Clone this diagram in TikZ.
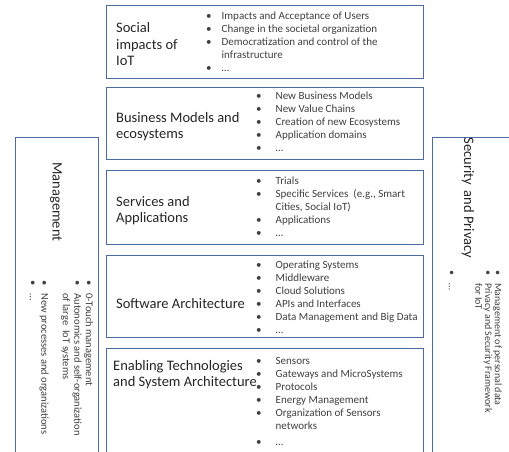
\documentclass[tikz,border=0pt]{standalone}
\usepackage{fontspec}
\setmainfont{Carlito}
\usepackage{tikz}
\usepackage{xcolor}
\usetikzlibrary{positioning}
\definecolor{layerblue}{RGB}{74,108,160}
\definecolor{txtgray}{RGB}{64,64,64}
\newcommand{\blist}[2][14pt]{\begin{tabular}{@{}l@{\hspace{#1}}l@{}}#2\end{tabular}}

\begin{document}
\begin{tikzpicture}[x=1pt,y=-1pt,
  layer/.style={draw=layerblue,line width=1.3pt,fill=white,minimum width=317pt,anchor=north west,inner sep=0pt},
  side/.style={draw=layerblue,line width=1.3pt,fill=white,anchor=north west,inner sep=0pt},
  head/.style={font=\fontsize{14.5}{16.5}\selectfont,align=left,text=black!85,inner sep=0pt},
  items/.style={font=\fontsize{11}{13}\selectfont,text=txtgray,inner sep=0pt},
  sidehead/.style={head,rotate=-90},
  sideitems/.style={text=txtgray,inner sep=0pt,rotate=-90,anchor=north west}]
  \useasboundingbox (0,0) rectangle (509,451);

  % side columns
  \node (mgt) [side,minimum width=83pt,minimum height=330pt] at (15,137) {};
  \node (sec) [side,minimum width=100pt,minimum height=330pt] at (432,137) {};

  % layers
  \node (soc) [layer,minimum height=73pt] at (106,5) {};
  \node (bus) [layer,minimum height=72pt] at (106,87) {};
  \node (srv) [layer,minimum height=74pt] at (106,170) {};
  \node (sw) [layer,minimum height=82pt] at (106,255) {};
  \node (ena) [layer,minimum height=120pt] at (106,348) {};

  \node (socT) [head,right=10pt of soc.west,yshift=-2pt] {Social\\impacts of\\IoT};
  \node (busT) [head,right=10pt of bus.west,yshift=-3pt] {Business Models and\\ecosystems};
  \node (srvT) [head,right=10pt of srv.west,yshift=-3pt] {Services and\\Applications};
  \node (swT) [head,right=10pt of sw.west,yshift=-7pt] {Software Architecture};
  \node (enaT) [head,below right=12pt and 7pt of ena.north west] {Enabling Technologies\\and System Architecture};

  \node (socL) [items,below right=5pt and 100pt of soc.north west] {\blist[10pt]{
    \textbullet & Impacts and Acceptance of Users\\
    \textbullet & Change in the societal organization\\
    \textbullet & Democratization and control of the\\
                & infrastructure\\
    \textbullet & \dots}};
  \node (busL) [items,below right=3pt and 150pt of bus.north west] {\blist{
    \textbullet & New Business Models\\
    \textbullet & New Value Chains\\
    \textbullet & Creation of new Ecosystems\\
    \textbullet & Application domains\\
    \textbullet & \dots}};
  \node (srvL) [items,below right=5pt and 150pt of srv.north west] {\blist{
    \textbullet & Trials\\
    \textbullet & Specific Services\ \ (e.g., Smart\\
                & Cities, Social IoT)\\
    \textbullet & Applications\\
    \textbullet & \dots}};
  \node (swL) [items,below right=4pt and 150pt of sw.north west] {\blist{
    \textbullet & Operating Systems\\
    \textbullet & Middleware\\
    \textbullet & Cloud Solutions\\
    \textbullet & APIs and Interfaces\\
    \textbullet & Data Management and Big Data\\
    \textbullet & \dots}};
  \node (enaL) [items,below right=7pt and 150pt of ena.north west] {\blist{
    \textbullet & Sensors\\
    \textbullet & Gateways and MicroSystems\\
    \textbullet & Protocols\\
    \textbullet & Energy Management\\
    \textbullet & Organization of Sensors\\
                & networks\\[3pt]
    \textbullet & \dots}};

  \node (mgtT) [sidehead] at (56,202) {Management};
  \node (mgtL) [sideitems,font=\fontsize{10.5}{11.5}\selectfont] at (94,280) {\blist[8pt]{
    \textbullet & 0-Touch management\\
    \textbullet & Autonomics and self-organization\\
                & of large\ \ IoT systems\\[10pt]
    \textbullet & New processes and organizations\\
    \textbullet & \dots}};

  \node (secT) [sidehead] at (468,198) {Security\ \,and Privacy};
  \node (secL) [sideitems,font=\fontsize{10}{9.5}\selectfont] at (502,270) {\blist[8pt]{
    \textbullet & Management of personal data\\
    \textbullet & Privacy and Security Framework\\
                & for IoT\\[17pt]
    \textbullet & \dots}};
\end{tikzpicture}
\end{document}
